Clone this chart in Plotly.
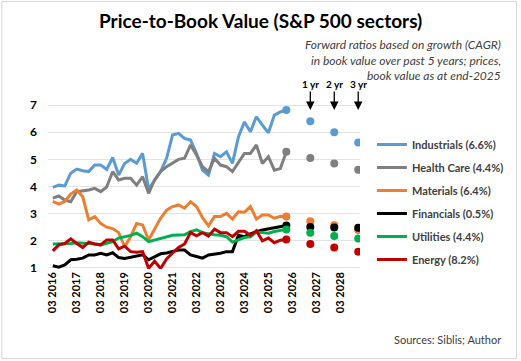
import plotly.graph_objects as go

# ---------------- data ----------------
years = list(range(2016, 2029))
months = ["03", "06", "09", "12"]
quarters = [f"{m} {y}" for y in years for m in months]          # 52 category labels
hist_quarters = quarters[:40]                                     # 03 2016 .. 12 2025
fwd_quarters = ["12 2026", "12 2027", "12 2028"]
fwd_labels = ["1 yr", "2 yr", "3 yr"]
tick_labels = [f"03 {y}" for y in years]

series_names = ["Industrials (6.6%)", "Health Care (4.4%)", "Materials (6.4%)",
                "Financials (0.5%)", "Utilities (4.4%)", "Energy (8.2%)"]

industrials = [3.97, 4.05, 4.02, 4.49, 4.64, 4.58, 4.55, 4.79, 4.79, 4.63,
               5.07, 4.42, 4.85, 5.00, 4.86, 5.22, 3.90, 4.25, 4.55, 5.04,
               5.90, 5.96, 5.77, 5.71, 5.22, 4.60, 4.42, 5.22, 5.10, 5.28,
               4.85, 5.83, 6.38, 6.02, 6.57, 6.26, 5.98, 6.63, 6.75, 6.82]
health_care = [3.57, 3.65, 3.50, 3.44, 3.81, 3.84, 3.87, 3.93, 3.81, 3.98,
               4.55, 4.24, 4.30, 4.30, 4.05, 4.36, 3.75, 4.24, 4.55, 4.73,
               4.85, 5.00, 5.04, 5.53, 5.16, 4.73, 4.55, 5.04, 4.79, 4.73,
               4.55, 4.90, 5.22, 5.22, 5.53, 4.85, 5.10, 4.60, 4.66, 5.28]
materials = [3.45, 3.35, 3.45, 3.72, 3.87, 3.62, 2.77, 2.89, 2.64, 2.50,
             2.45, 2.30, 1.78, 2.15, 2.64, 2.58, 2.03, 2.46, 2.83, 3.13,
             3.26, 3.32, 3.20, 3.44, 3.26, 2.85, 2.55, 2.89, 2.89, 3.01,
             2.80, 3.07, 3.05, 3.26, 2.80, 2.95, 2.95, 2.83, 2.90, 2.89]
financials = [1.08, 1.03, 1.11, 1.30, 1.32, 1.36, 1.48, 1.48, 1.54, 1.48,
              1.56, 1.38, 1.35, 1.40, 1.45, 1.48, 1.30, 1.42, 1.52, 1.55,
              1.60, 1.66, 1.66, 1.48, 1.42, 1.36, 1.48, 1.50, 1.54, 1.60,
              1.60, 2.20, 2.15, 2.25, 2.34, 2.40, 2.44, 2.50, 2.53, 2.56]
utilities = [1.88, 1.88, 1.90, 1.90, 1.93, 1.92, 1.90, 1.88, 1.85, 1.90,
             1.97, 2.10, 2.15, 2.20, 2.28, 2.15, 1.97, 2.03, 2.08, 2.15,
             2.20, 2.21, 2.22, 2.34, 2.40, 2.30, 2.25, 2.22, 2.20, 2.15,
             1.95, 2.05, 2.12, 2.15, 2.32, 2.30, 2.28, 2.34, 2.38, 2.42]
energy = [1.63, 1.85, 1.90, 2.07, 1.90, 1.75, 1.95, 1.88, 1.85, 2.03,
          2.03, 1.70, 1.80, 1.60, 1.58, 1.60, 0.98, 1.25, 0.98, 1.33,
          1.55, 1.75, 1.88, 2.30, 2.18, 2.30, 2.17, 2.43, 2.30, 2.30,
          2.15, 2.35, 2.35, 2.20, 2.37, 2.00, 2.10, 1.93, 2.02, 2.05]

fwd_industrials = [6.40, 6.00, 5.62]
fwd_health_care = [5.05, 4.85, 4.62]
fwd_materials = [2.72, 2.57, 2.40]
fwd_financials = [2.51, 2.49, 2.48]
fwd_utilities = [2.30, 2.18, 2.08]
fwd_energy = [1.88, 1.75, 1.60]

history = [industrials, health_care, materials, financials, utilities, energy]
forward = [fwd_industrials, fwd_health_care, fwd_materials, fwd_financials,
           fwd_utilities, fwd_energy]
colors = ["#5B9BD5", "#7F7F7F", "#ED7D31", "#000000", "#00B050", "#C00000"]

# ---------------- layout geometry (pixels) ----------------
FW, FH = 521, 361
L, T, W, H = 48, 104, 314, 165


def px(x):
    return (x - L) / W


def py(y):
    return (T + H - y) / H


FONT = "Lato, 'Open Sans', sans-serif"
TXT = "#404040"

fig = go.Figure()

for name, vals, c in zip(series_names, history, colors):
    fig.add_trace(go.Scatter(
        x=hist_quarters, y=vals, name=f"<b>{name}</b>", mode="lines",
        line=dict(color=c, width=3), legendgroup=name,
    ))

for name, vals, fvals, c in zip(series_names, history, forward, colors):
    # end-of-history dot plus the three forward-ratio dots
    fig.add_trace(go.Scatter(
        x=[hist_quarters[-1]] + fwd_quarters, y=[vals[-1]] + fvals,
        mode="markers", showlegend=False,
        marker=dict(color=c, size=8), legendgroup=name, hoverinfo="skip",
    ))

annotations = []
annotations.append(dict(
    text="<b>Price-to-Book Value (S&P 500 sectors)</b>",
    xref="paper", yref="paper", x=px(262), y=py(20),
    xanchor="center", yanchor="middle", showarrow=False,
    font=dict(family=FONT, size=19, color="#000000")))

note_lines = ["Forward ratios based on growth (CAGR)",
              "in book value over past 5 years; prices,",
              "book value as at end-2025"]
for i, t in enumerate(note_lines):
    annotations.append(dict(
        text=f"<i>{t}</i>", xref="paper", yref="paper",
        x=px(506), y=py(45 + 15 * i), xanchor="right", yanchor="middle",
        showarrow=False, font=dict(family=FONT, size=12, color=TXT)))

for q, lab in zip(fwd_quarters, fwd_labels):
    annotations.append(dict(
        text=f"<b>{lab}</b>", x=q, xref="x", yref="paper", y=py(110),
        showarrow=True, arrowhead=2, arrowsize=1.3, arrowwidth=1.3,
        arrowcolor="#000000", ax=0, ay=-26,
        font=dict(family=FONT, size=10, color="#000000")))

annotations.append(dict(
    text="Sources: Siblis; Author", xref="paper", yref="paper",
    x=px(506), y=py(339), xanchor="right", yanchor="middle",
    showarrow=False, font=dict(family=FONT, size=11, color=TXT)))

fig.update_layout(
    width=FW, height=FH,
    margin=dict(l=L, r=FW - L - W, t=T, b=FH - T - H),
    paper_bgcolor="white", plot_bgcolor="white",
    showlegend=True,
    legend=dict(x=px(374), y=py(130), xanchor="left", yanchor="top",
                font=dict(family=FONT, size=11, color=TXT),
                tracegroupgap=4, itemwidth=30, bgcolor="rgba(0,0,0,0)"),
    annotations=annotations,
    shapes=[dict(type="rect", xref="paper", yref="paper",
                 x0=px(1.5), x1=px(519.5), y0=py(358.5), y1=py(1.5),
                 line=dict(color="#d9d9d9", width=1))],
    font=dict(family=FONT),
)

fig.update_xaxes(
    type="category", categoryorder="array", categoryarray=quarters,
    range=[-0.8, 51.3], tickmode="array", tickvals=tick_labels,
    ticktext=[f"<b>{t}</b>" for t in tick_labels], tickangle=-90,
    tickfont=dict(family=FONT, size=11, color="#000000"),
    showgrid=False, showline=False, zeroline=False, ticks="",
)
fig.update_yaxes(
    range=[0.96, 7.04], tickvals=[1, 2, 3, 4, 5, 6, 7],
    ticktext=[f"<b>{v}</b>" for v in range(1, 8)],
    tickfont=dict(family=FONT, size=12, color="#000000"),
    showgrid=True, gridcolor="#e3e3e3", gridwidth=1,
    zeroline=False, showline=False, ticks="", ticklabelstandoff=10,
)

fig.write_html("out.html",
               config={"displayModeBar": False},
               post_script="document.body.style.margin='0';"
                           "document.body.style.overflow='hidden';")
